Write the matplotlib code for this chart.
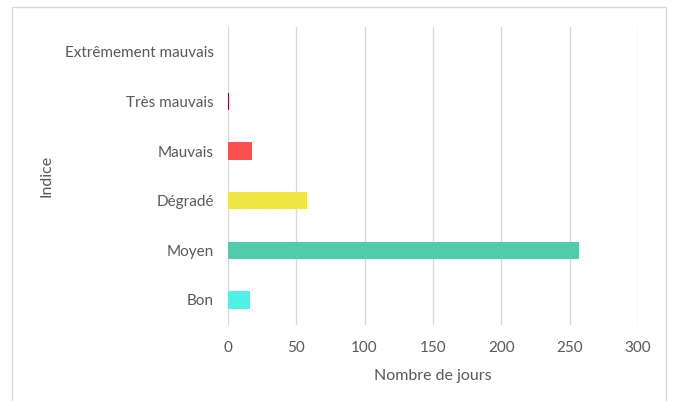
import matplotlib.pyplot as plt
from matplotlib.patches import Rectangle

# ATMO index categories, bottom to top
categories = ['Bon', 'Moyen', 'Dégradé', 'Mauvais', 'Très mauvais', 'Extrêmement mauvais']
days = [16, 257, 58, 18, 1, 0]
colors = ['#50F0E6', '#50CCAA', '#F0E641', '#FF5050', '#960032', '#7D2181']
xticks = [0, 50, 100, 150, 200, 250, 300]

plt.rcParams['font.family'] = ['Lato', 'DejaVu Sans']
text_color = '#595959'

fig = plt.figure(figsize=(6.78, 4.01), dpi=100)
ax = fig.add_axes([0.336, 0.19, 0.605, 0.743])

ax.barh(range(len(categories)), days, height=0.35, color=colors, zorder=3)

ax.set_xlim(0, 300)
ax.set_ylim(-0.5, len(categories) - 0.5)
ax.set_xticks(xticks)
ax.set_yticks(range(len(categories)))
ax.set_yticklabels(categories)
ax.tick_params(axis='both', length=0, labelsize=11, colors=text_color)
ax.tick_params(axis='y', pad=10)
ax.tick_params(axis='x', pad=12)
ax.grid(axis='x', color='#d9d9d9', linewidth=1, zorder=0)
for s in ax.spines.values():
    s.set_visible(False)

ax.set_xlabel('Nombre de jours', fontsize=11.5, color=text_color, labelpad=10)
ax.set_ylabel('Indice', fontsize=11.5, color=text_color)
ax.yaxis.set_label_coords(-0.425, 0.5)

# light border around the chart area
fig.patches.append(Rectangle((12 / 678, -0.05), 654 / 678, 1 - 7 / 401 + 0.05,
                             transform=fig.transFigure, fill=False,
                             edgecolor='#d9d9d9', linewidth=1))

plt.savefig('out.png', dpi=100)
